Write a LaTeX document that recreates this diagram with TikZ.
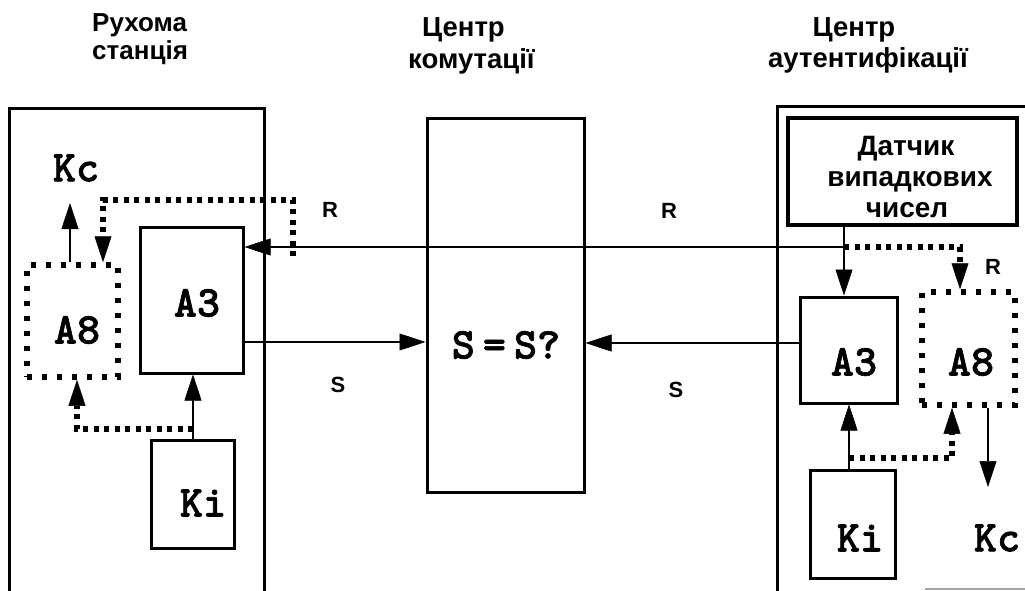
\documentclass[tikz,border=0pt]{standalone}
\usepackage{fontspec}
\setmainfont{Liberation Sans}
\newfontfamily\monob{lmmonolt10-bold.otf}[FakeBold=1.5]
\usetikzlibrary{arrows.meta}
\tikzset{
  box/.style={draw, line width=3pt, inner sep=0pt},
  dbox/.style={draw, line width=5.5pt, dash pattern=on 5pt off 10pt, inner sep=0pt},
  tip/.style={-{Triangle[length=26pt,width=17pt,line width=0.5pt]}},
  arr/.style={line width=2.8pt, tip},
  dotln/.style={line width=5.5pt, dash pattern=on 5pt off 5.5pt},
  dotarr/.style={dotln, tip},
  wall/.style={line width=3pt},
  ttl/.style={inner sep=0pt, font=\fontsize{26}{28}\bfseries\selectfont},
  ttr/.style={inner sep=0pt, font=\fontsize{27.5}{31}\bfseries\selectfont},
  dtx/.style={inner sep=0pt, font=\fontsize{28}{31}\bfseries\selectfont},
  sml/.style={inner sep=0pt, font=\fontsize{22}{24}\bfseries\selectfont},
  mono/.style={inner sep=0pt, font=\fontsize{44}{44}\monob\selectfont},
}
\begin{document}
\begin{tikzpicture}[x=1pt,y=-1pt]
\useasboundingbox (0,0) rectangle (1025,591);
% titles
\node[ttl, anchor=base west] (t1a) at (92,32) {Рухома};
\node[ttl, anchor=base west] (t1b) at (92,60) {станція};
\node[ttr, anchor=base west] (t2a) at (422,37) {Центр};
\node[ttr, anchor=base west] (t2b) at (408,69) {комутації};
\node[ttr, anchor=base] (t3a) at (854,37) {Центр};
\node[ttr, anchor=base] (t3b) at (868,68) {аутентифікації};
% outer walls
\draw[wall] (9,591) -- (9,109) -- (264,109) -- (264,591);
\draw[wall] (777,591) -- (777,107) -- (1025,107);
\draw[line width=2pt, gray!70] (925,589) -- (1025,589);
% left station
\node[dbox, minimum width=91pt, minimum height=112pt] (lA8) at (72.5,321) {};
\node[box, minimum width=103pt, minimum height=146pt] (lA3) at (191.5,300) {};
\node[box, minimum width=83pt, minimum height=108pt] (lKi) at (192.5,494) {};
\node[mono] (lKc) at (76,168) {Kc};
\node[mono] (lA8t) at (77,330) {A8};
\node[mono] (lA3t) at (197,303) {A3};
\node[mono] (lKit) at (203,503) {Ki};
% centre
\node[box, minimum width=157pt, minimum height=373pt] (cc) at (505.5,305.5) {};
\node[mono] (cct) at (506,345) {S\hspace{8pt}=\hspace{8pt}S?};
% right centre
\node[box, line width=3.5pt, minimum width=229pt, minimum height=107pt] (dat) at (902.5,171.5) {};
\node[dtx, anchor=base] (d1) at (906,155) {Датчик};
\node[dtx, anchor=base] (d2) at (910,186) {випадкових};
\node[dtx, anchor=base] (d3) at (907,217) {чисел};
\node[box, minimum width=97pt, minimum height=106pt] (rA3) at (848.5,350) {};
\node[dbox, minimum width=93pt, minimum height=113pt] (rA8) at (968.5,348.5) {};
\node[box, minimum width=85pt, minimum height=108pt] (rKi) at (852.5,524) {};
\node[mono] (rA3t) at (854,362) {A3};
\node[mono] (rA8t) at (971,362) {A8};
\node[mono] (rKit) at (860,538) {Ki};
\node[mono] (rKc) at (997,538) {Kc};
% labels
\node[sml] (R1) at (330,210) {R};
\node[sml] (R2) at (669,211) {R};
\node[sml] (R3) at (993,267) {R};
\node[sml] (S1) at (338,385) {S};
\node[sml] (S2) at (676,390) {S};
% coordinates
\coordinate (j) at (844,247);
\coordinate (tapL) at (293,256);
\coordinate (lKb) at (193,429);
\coordinate (rKb) at (849,458);
\coordinate (kcLe) at (70,203);
\coordinate (kcRe) at (988,487);
% solid connectors
\draw[line width=2.8pt] (dat.south -| j) -- (j);
\draw[arr] (j) -- (lA3.east |- j);
\draw[arr] (j) -- (rA3.north -| j);
\draw[arr] (lA3.east |- 0,342) -- (cc.west |- 0,342);
\draw[arr] (rA3.west |- 0,343) -- (cc.east |- 0,343);
\draw[arr] (lKi.north -| lKb) -- (lA3.south -| lKb);
\draw[arr] (rKi.north -| rKb) -- (rA3.south -| rKb);
\draw[arr] (lA8.north -| kcLe) -- (kcLe);
\draw[arr] (rA8.south -| kcRe) -- (kcRe);
% dotted connectors
\draw[dotarr] (tapL) -- (293,200) -- (103,200) -- (lA8.north -| 103,0);
\draw[dotarr] (lKb) -- (77,429) -- (lA8.south -| 77,0);
\draw[dotarr] (j) -- (960,247) -- (rA8.north -| 960,0);
\draw[dotarr] (rKb) -- (952,458) -- (rA8.south -| 952,0);
\end{tikzpicture}
\end{document}
